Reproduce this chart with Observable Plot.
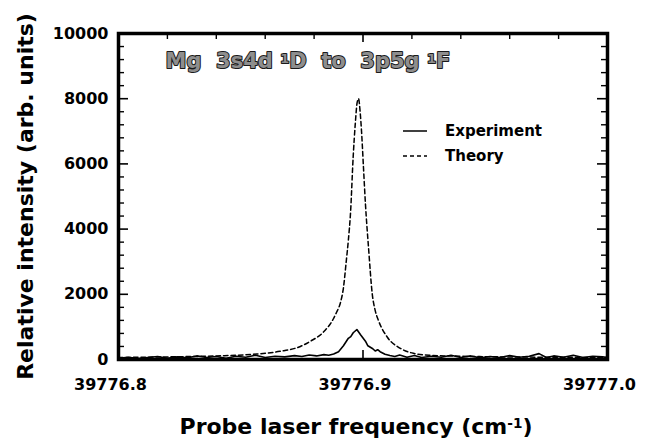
<!DOCTYPE html>
<html><head><meta charset="utf-8">
<script src="https://cdn.jsdelivr.net/npm/d3@7"></script>
<script src="https://cdn.jsdelivr.net/npm/@observablehq/plot@0.6"></script>
<style>
body{margin:0;background:#fff;}
#chart{width:645px;height:445px;}
</style></head><body><div id="chart"></div>
<script>
// Theory (dashed) curve
const theoryFreq = [39776.800, 39776.820, 39776.840, 39776.855, 39776.866, 39776.8744, 39776.8785, 39776.8838, 39776.8879, 39776.8892, 39776.8908, 39776.8920, 39776.8932, 39776.8940, 39776.8949, 39776.8960, 39776.8969, 39776.8976, 39776.8982, 39776.8988, 39776.8994, 39776.9002, 39776.9010, 39776.9023, 39776.9038, 39776.9050, 39776.9063, 39776.9099, 39776.9153, 39776.9206, 39776.9276, 39776.940, 39776.956, 39776.977, 39777.000];
const theoryVal  = [60, 80, 110, 160, 250, 400, 560, 840, 1250, 1450, 1750, 2200, 3050, 3650, 4500, 6240, 7290, 7880, 8000, 7620, 7000, 5880, 4770, 3390, 2000, 1500, 1200, 690, 340, 190, 130, 100, 80, 70, 60];
// Experiment (solid) curve
const expFreq = [39776.800, 39776.804, 39776.808, 39776.812, 39776.816, 39776.820, 39776.824, 39776.828, 39776.832, 39776.836, 39776.840, 39776.844, 39776.848, 39776.852, 39776.856, 39776.860, 39776.864, 39776.868, 39776.872, 39776.875, 39776.878, 39776.881, 39776.884, 39776.886, 39776.888, 39776.890, 39776.892, 39776.894, 39776.895, 39776.896, 39776.8975, 39776.899, 39776.901, 39776.902, 39776.904, 39776.905, 39776.906, 39776.907, 39776.909, 39776.911, 39776.913, 39776.915, 39776.918, 39776.921, 39776.924, 39776.928, 39776.932, 39776.936, 39776.940, 39776.944, 39776.948, 39776.952, 39776.956, 39776.960, 39776.964, 39776.968, 39776.972, 39776.975, 39776.978, 39776.982, 39776.986, 39776.990, 39776.994, 39776.998, 39777.000];
const expVal  = [40, 70, 30, 60, 90, 40, 80, 50, 110, 60, 90, 40, 100, 70, 130, 60, 100, 80, 120, 90, 140, 110, 150, 130, 170, 240, 420, 650, 700, 820, 920, 760, 560, 420, 330, 260, 300, 240, 160, 120, 90, 140, 70, 120, 60, 100, 70, 130, 60, 110, 50, 90, 60, 120, 70, 100, 180, 60, 110, 70, 130, 60, 100, 80, 60];

const seriesNames = ["Experiment", "Theory"];
const xTicks = [39776.8, 39776.9, 39777.0];
const xMinorTicks = [39776.82, 39776.84, 39776.86, 39776.88, 39776.92, 39776.94, 39776.96, 39776.98];
const yTicks = [0, 2000, 4000, 6000, 8000, 10000];
const yMinorTicks = [400, 800, 1200, 1600, 2400, 2800, 3200, 3600, 4400, 4800, 5200, 5600, 6400, 6800, 7200, 7600, 8400, 8800, 9200, 9600];
const titleText = "Mg  3s4d 1D  to  3p5g 1F";
const xLabel = "Probe laser frequency (cm-1)";
const yLabel = "Relative intensity (arb. units)";

const theory = theoryFreq.map((f, i) => ({f, v: theoryVal[i]}));
const experiment = expFreq.map((f, i) => ({f, v: expVal[i]}));

const W = 645, H = 445, mL = 118, mR = 38, mT = 33, mB = 86;
const iw = W - mL - mR, ih = H - mT - mB;

const chart = Plot.plot({
  width: W, height: H,
  marginLeft: mL, marginRight: mR, marginTop: mT, marginBottom: mB,
  style: {fontFamily: "'DejaVu Sans', sans-serif", fontWeight: "bold", background: "white", color: "black"},
  x: {domain: [39776.8, 39777.0]},
  y: {domain: [0, 10000]},
  marks: [
    Plot.line(theory, {x: "f", y: "v", stroke: "black", strokeWidth: 1.5, strokeDasharray: "4.5,3", curve: "monotone-x"}),
    Plot.line(experiment, {x: "f", y: "v", stroke: "black", strokeWidth: 1.6}),
    // inward ticks
    Plot.ruleX(xMinorTicks, {stroke: "black", strokeWidth: 1.4, insetBottom: ih - 6}),
    Plot.ruleX([xTicks[1]], {stroke: "black", strokeWidth: 1.6, insetBottom: ih - 9}),
    Plot.ruleX([xTicks[1]], {stroke: "black", strokeWidth: 1.6, insetTop: ih - 9}),
    Plot.ruleY(yMinorTicks, {stroke: "black", strokeWidth: 1.4, insetRight: iw - 6}),
    Plot.ruleY(yTicks.slice(1, -1), {stroke: "black", strokeWidth: 1.6, insetRight: iw - 10}),
    Plot.ruleY(yMinorTicks, {stroke: "black", strokeWidth: 1.4, insetLeft: iw - 6}),
    Plot.ruleY(yTicks.slice(1, -1), {stroke: "black", strokeWidth: 1.6, insetLeft: iw - 10}),
    Plot.frame({stroke: "black", strokeWidth: 3.5}),
    Plot.axisX(xTicks, {tickSize: 0, tickPadding: 19, fontSize: 16, tickFormat: d => d.toFixed(1), label: null, dx: -8}),
    Plot.axisY(yTicks, {tickSize: 0, tickPadding: 10, fontSize: 16, tickFormat: d => String(d), label: null}),
    Plot.text([titleText], {frameAnchor: "top-left", textAnchor: "start", lineAnchor: "top", dx: 47, dy: 20, fontSize: 21, fill: "#8e8e8e", stroke: "#1a1a1a", strokeWidth: 2}),
    Plot.text([xLabel], {frameAnchor: "bottom", lineAnchor: "bottom", dx: -7, dy: 74, fontSize: 22}),
    Plot.text([yLabel], {frameAnchor: "left", rotate: -90, textAnchor: "middle", lineAnchor: "middle", dx: -93, fontSize: 22})
  ]
});
document.getElementById("chart").appendChild(chart);

const svg = d3.select(chart);
// superscripts
function supify(str, parts) {
  svg.selectAll("text").filter(function() { return this.textContent === str; }).each(function() {
    const t = d3.select(this);
    t.text(null).style("white-space", "pre");
    let shifted = false;
    parts.forEach(([s, sup]) => {
      const sp = t.append("tspan").text(s);
      if (sup) { sp.attr("dy", "-0.42em").style("font-size", "62%"); shifted = true; }
      else if (shifted) { sp.attr("dy", "0.26em"); shifted = false; }
    });
  });
}
supify(titleText, [["Mg  3s4d ", false], ["1", true], ["D  to  3p5g ", false], ["1", true], ["F", false]]);
supify(xLabel, [["Probe laser frequency (cm", false], ["-1", true], [")", false]]);

// legend
const lg = svg.append("g").attr("font-size", 15).attr("font-weight", "bold").attr("text-anchor", "start");
const rows = [{y: 131, dash: null}, {y: 156, dash: "4,3"}];
seriesNames.forEach((name, i) => {
  const r = rows[i];
  lg.append("line").attr("x1", 403).attr("x2", 427).attr("y1", r.y).attr("y2", r.y)
    .attr("stroke", "black").attr("stroke-width", 1.5).attr("stroke-dasharray", r.dash);
  lg.append("text").attr("x", 445).attr("y", r.y).attr("dy", "0.36em").text(name);
});
</script></body></html>
